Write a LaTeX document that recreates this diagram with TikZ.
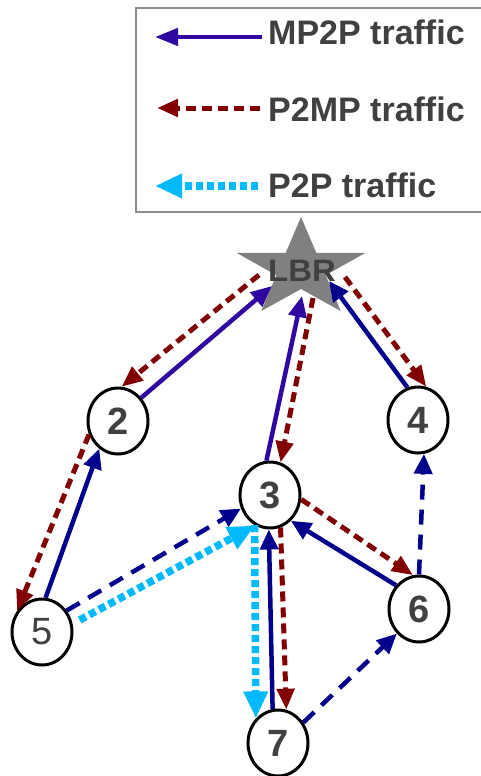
\documentclass[tikz,border=0pt]{standalone}
\usepackage{fontspec}
\setmainfont{Liberation Sans}
\usetikzlibrary{arrows.meta,shapes.geometric}

\definecolor{mpblue}{RGB}{46,8,160}
\definecolor{navyblue}{RGB}{0,0,140}
\definecolor{darkred}{RGB}{130,0,0}
\definecolor{skycyan}{RGB}{0,185,255}
\definecolor{labelgray}{RGB}{64,64,64}
\definecolor{stargray}{RGB}{128,128,128}
\definecolor{framegray}{RGB}{140,140,140}

\tikzset{
  station/.style={ellipse, draw=black, line width=3pt, fill=white,
    minimum width=60pt, minimum height=66pt, inner sep=0pt,
    text=labelgray, font=\fontsize{38}{38}\selectfont\bfseries},
  legendtext/.style={anchor=base west, inner sep=0pt, text=labelgray,
    font=\fontsize{34}{34}\selectfont\bfseries},
  mpsolid/.style={draw=mpblue, line width=4.5pt,
    -{Triangle[length=21pt,width=18pt]}},
  navysolid/.style={draw=navyblue, line width=4.5pt,
    -{Triangle[length=20pt,width=18pt]}},
  navydash/.style={draw=navyblue, line width=4.5pt,
    dash pattern=on 15pt off 10pt, -{Triangle[length=20pt,width=18pt]}},
  redsdash/.style={draw=darkred, line width=5pt,
    dash pattern=on 10pt off 6pt, -{Triangle[length=21pt,width=17pt]}},
  cyandot/.style={draw=skycyan, line width=7.5pt,
    dash pattern=on 7pt off 4pt, -{Triangle[length=27pt,width=23pt]}}
}

\begin{document}
\begin{tikzpicture}[x=1pt,y=-1pt]
\useasboundingbox (0,0) rectangle (480,776);

% legend
\draw[framegray, line width=1.2pt] (136,8) rectangle (484,212);
\coordinate (lga) at (262,37);  \coordinate (lgb) at (155,37);
\coordinate (lgc) at (260,108); \coordinate (lgd) at (157,108);
\coordinate (lge) at (258,186); \coordinate (lgf) at (155,186);
\draw[mpsolid, -{Triangle[length=23pt,width=17pt]}] (lga) -- (lgb);
\draw[redsdash] (lgc) -- (lgd);
\draw[cyandot] (lge) -- (lgf);
\node[legendtext] (lt1) at (268,45)  {MP2P traffic};
\node[legendtext] (lt2) at (268,121) {P2MP traffic};
\node[legendtext] (lt3) at (268,197) {P2P traffic};

% the LBR star
\begin{scope}[shift={(301,269)}, xscale=1.3]
  \fill[stargray] (-90:52) -- (-54:20) -- (-18:52) -- (18:20) -- (54:52)
    -- (90:20) -- (126:52) -- (162:20) -- (198:52) -- (234:20) -- cycle;
\end{scope}
\node[text=labelgray, font=\fontsize{31}{31}\selectfont\bfseries, inner sep=0pt]
  (lbr) at (302,271) {\scalebox{1.06}[1]{LBR}};

% attachment points on the star
\coordinate (s2in)  at (272,286);
\coordinate (s2out) at (259,275);
\coordinate (s3in)  at (302,296);
\coordinate (s3out) at (313,298);
\coordinate (s4in)  at (329,281);
\coordinate (s4out) at (345,277);

% stations
\node[station] (n2) at (118,421) {2};
\node[station] (n4) at (418,420) {4};
\node[station] (n3) at (270,495) {3};
\node[station] (n5) at (42,632)  {\mdseries 5};
\node[station] (n6) at (419,609) {6};
\node[station] (n7) at (278,743) {7};

% traffic to and from the LBR
\draw[mpsolid]   (n2.45)  -- (s2in);
\draw[redsdash]  (s2out)  -- (n2.84);
\draw[mpsolid]   (n3.96)  -- (s3in);
\draw[redsdash]  (s3out)  -- (n3.72);
\draw[navysolid] (n4.108) -- (s4in);
\draw[redsdash]  (s4out)  -- (n4.76);

% traffic between stations
\draw[navysolid] (n5.84)  -- (n2.236);
\draw[redsdash]  (n2.205) -- (n5.140);
\draw[navydash]  (n5.41)  -- (n3.205);
\draw[cyandot, shorten <=8pt] (n5.15) -- (n3.244);
\draw[redsdash]  (n3.352) -- (n6.100);
\draw[navysolid] (n6.134) -- (n3.309);
\draw[navydash]  (n6.90)  -- (n4.280);
\draw[navysolid] (n7.99)  -- (n3.268);
\draw[redsdash]  (n3.288) -- (n7.76);
\draw[cyandot]   (n3.243) -- (n7.132);
\draw[navydash]  (n7.39)  -- (n6.228);
\end{tikzpicture}
\end{document}
